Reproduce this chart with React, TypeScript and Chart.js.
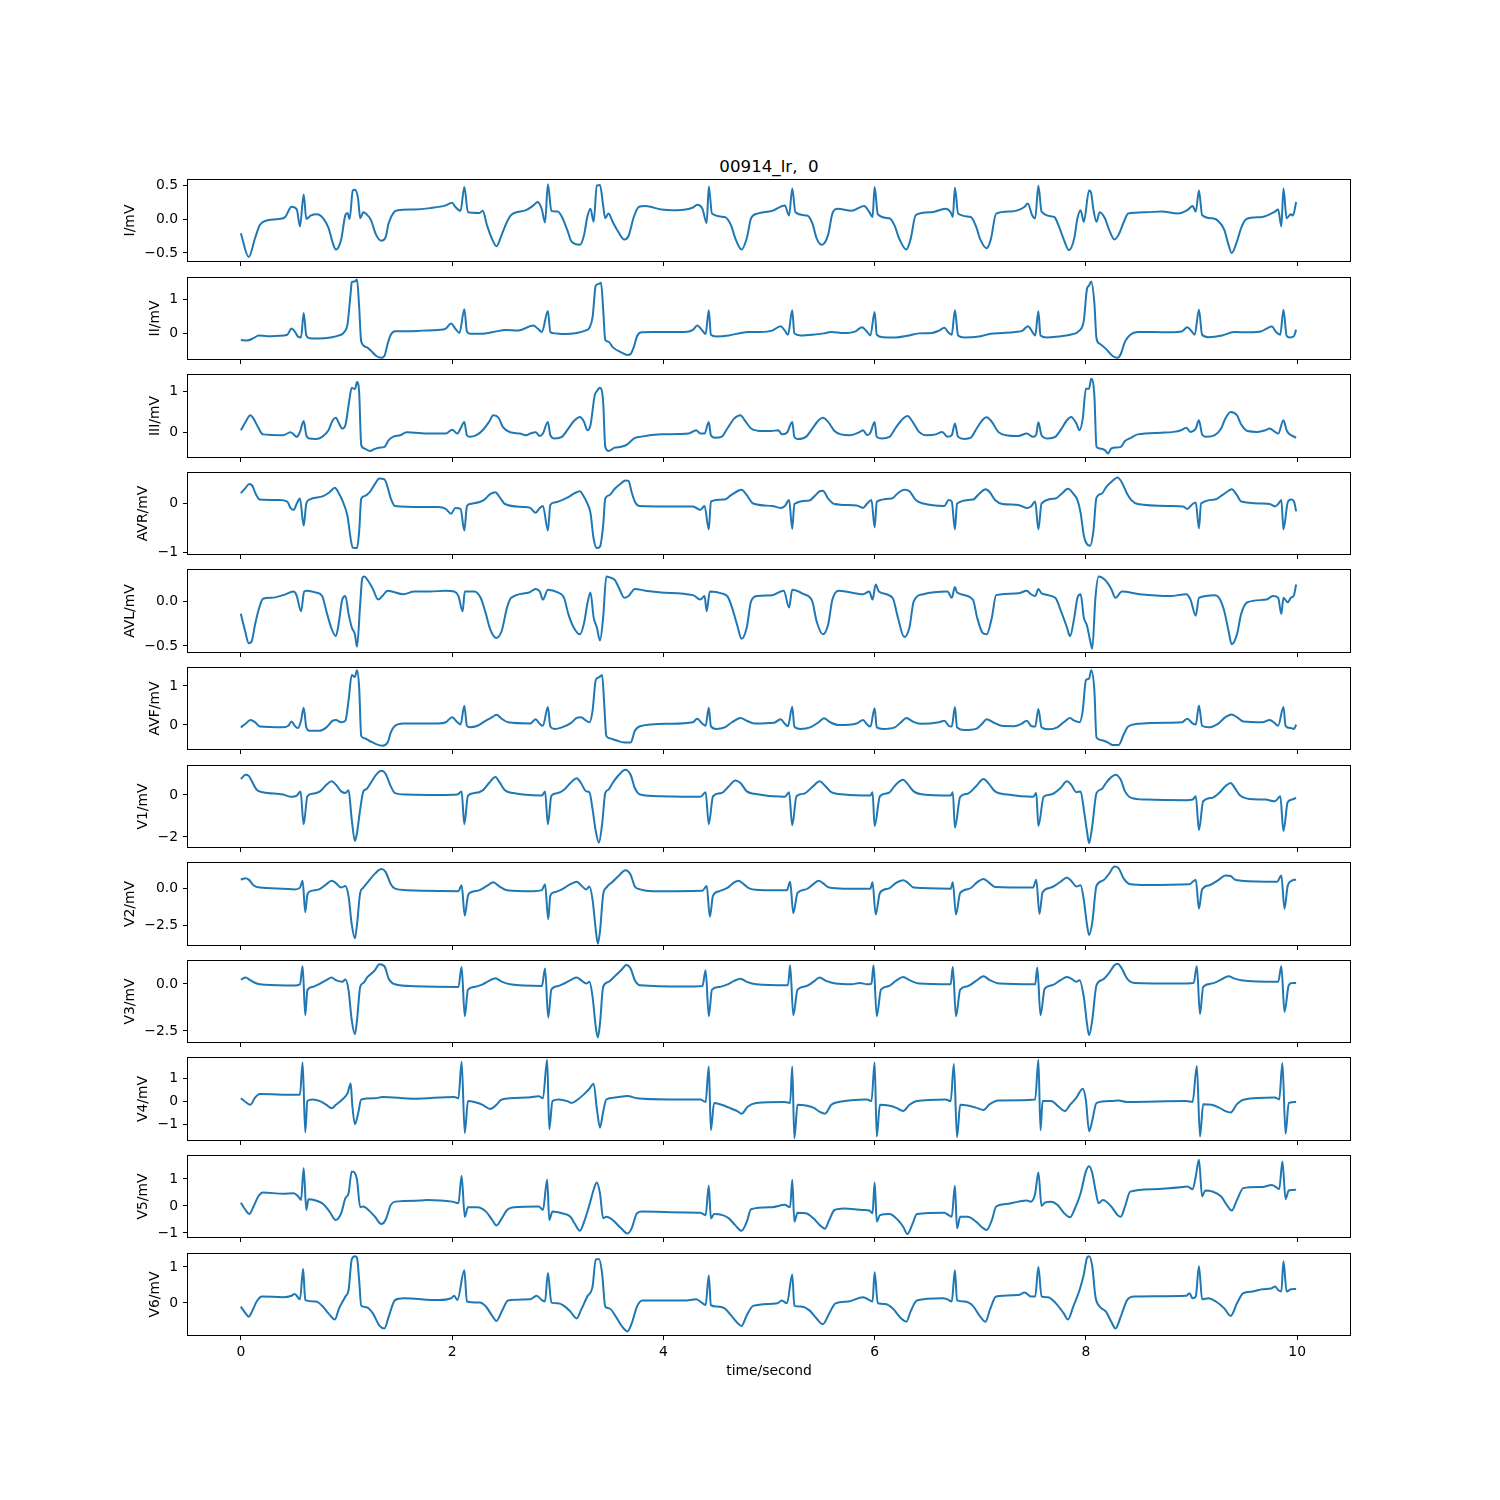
import React, { useEffect, useRef } from "react";
import { Chart, registerables } from "chart.js";

Chart.register(...registerables);

const FONT = "'DejaVu Sans', 'Liberation Sans', sans-serif";
const TITLE = "00914_lr,  0";
const X_LABEL = "time/second";
const X_TICKS = [0, 2, 4, 6, 8, 10];
const X_MIN = -0.5;
const X_MAX = 10.5;

const LEAD_NAMES = ["I", "II", "III", "AVR", "AVL", "AVF", "V1", "V2", "V3", "V4", "V5", "V6"];
const Y_TICKS = [
  [-0.5, 0, 0.5], [0, 1], [0, 1], [-1, 0], [-0.5, 0], [0, 1],
  [-2, 0], [-2.5, 0], [-2.5, 0], [-1, 0, 1], [-1, 0, 1], [0, 1],
];
const Y_DECIMALS = [1, 0, 0, 0, 1, 0, 0, 1, 1, 0, 0, 0];
const Y_LIMITS = [
  [-0.618, 0.574], [-0.735, 1.62], [-0.585, 1.39], [-1.04, 0.612], [-0.568, 0.352], [-0.615, 1.46],
  [-2.48, 1.38], [-3.78, 1.69], [-3.09, 1.22], [-1.65, 1.87], [-1.15, 1.85], [-0.89, 1.36],
];

const LEAD_I: [number, number][] = [[0.0,-0.21],[0.075,-0.56],[0.135,-0.28],[0.18,-0.09],[0.23,-0.03],[0.36,0.0],[0.42,0.03],[0.48,0.18],[0.53,0.14],[0.56,-0.11],[0.595,0.36],[0.62,0.0],[0.66,0.05],[0.72,0.07],[0.78,0.01],[0.83,-0.13],[0.87,-0.35],[0.9,-0.45],[0.95,-0.3],[0.99,0.06],[1.01,0.09],[1.03,0.0],[1.06,0.42],[1.08,0.43],[1.11,0.3],[1.13,0.01],[1.16,0.1],[1.19,0.07],[1.23,-0.01],[1.28,-0.23],[1.33,-0.32],[1.37,-0.27],[1.4,-0.06],[1.45,0.1],[1.49,0.13],[1.64,0.14],[1.79,0.16],[1.94,0.2],[2.0,0.24],[2.03,0.18],[2.08,0.12],[2.116,0.47],[2.15,0.1],[2.26,0.09],[2.29,0.12],[2.33,-0.09],[2.38,-0.3],[2.42,-0.4],[2.47,-0.23],[2.52,-0.04],[2.56,0.06],[2.7,0.13],[2.77,0.2],[2.81,0.25],[2.85,0.14],[2.88,-0.05],[2.907,0.51],[2.94,0.12],[3.0,0.11],[3.04,0.03],[3.09,-0.16],[3.13,-0.33],[3.21,-0.38],[3.25,-0.23],[3.28,0.03],[3.31,0.15],[3.34,-0.04],[3.37,0.49],[3.4,0.5],[3.43,0.2],[3.45,0.01],[3.48,0.08],[3.52,-0.04],[3.57,-0.18],[3.63,-0.3],[3.67,-0.25],[3.72,0.03],[3.77,0.18],[3.83,0.19],[3.98,0.14],[4.13,0.13],[4.28,0.17],[4.32,0.21],[4.37,0.15],[4.41,-0.06],[4.43,0.48],[4.46,0.08],[4.58,0.03],[4.64,-0.09],[4.68,-0.28],[4.74,-0.45],[4.79,-0.28],[4.83,0.01],[4.89,0.08],[5.03,0.12],[5.15,0.2],[5.19,0.05],[5.22,0.45],[5.25,0.1],[5.36,0.05],[5.41,-0.06],[5.45,-0.28],[5.5,-0.38],[5.56,-0.23],[5.6,0.08],[5.65,0.15],[5.78,0.12],[5.9,0.19],[5.95,0.1],[5.98,0.03],[6.0,0.47],[6.03,0.07],[6.14,0.01],[6.19,-0.1],[6.23,-0.28],[6.3,-0.45],[6.34,-0.3],[6.39,0.06],[6.54,0.1],[6.67,0.15],[6.72,0.1],[6.74,0.03],[6.76,0.46],[6.79,0.08],[6.91,0.03],[6.96,-0.11],[7.0,-0.3],[7.06,-0.43],[7.1,-0.3],[7.15,0.08],[7.29,0.11],[7.42,0.18],[7.45,0.23],[7.49,0.06],[7.52,0.01],[7.55,0.49],[7.58,0.11],[7.7,0.03],[7.74,-0.09],[7.79,-0.3],[7.84,-0.46],[7.89,-0.28],[7.92,0.01],[7.95,0.13],[7.98,-0.04],[8.03,0.42],[8.05,0.38],[8.07,0.15],[8.1,-0.04],[8.13,0.1],[8.18,0.01],[8.22,-0.16],[8.27,-0.3],[8.31,-0.23],[8.36,-0.04],[8.4,0.08],[8.57,0.1],[8.72,0.11],[8.87,0.08],[8.96,0.13],[9.01,0.19],[9.04,0.11],[9.07,0.42],[9.1,0.06],[9.2,0.01],[9.26,-0.04],[9.31,-0.16],[9.35,-0.38],[9.38,-0.5],[9.43,-0.33],[9.47,-0.13],[9.52,0.0],[9.67,0.03],[9.79,0.11],[9.82,0.14],[9.85,-0.11],[9.87,0.45],[9.9,0.01],[9.94,0.07],[9.96,0.05],[9.99,0.25]];

const LEAD_II: [number, number][] = [[0.0,-0.18],[0.06,-0.2],[0.12,-0.13],[0.17,-0.05],[0.25,-0.07],[0.36,-0.06],[0.44,-0.03],[0.48,0.15],[0.51,0.07],[0.54,-0.08],[0.57,-0.11],[0.595,0.6],[0.62,-0.05],[0.65,-0.13],[0.74,-0.14],[0.85,-0.11],[0.93,-0.05],[0.98,0.05],[1.01,0.28],[1.04,1.19],[1.05,1.5],[1.08,1.52],[1.1,1.58],[1.12,0.79],[1.14,-0.23],[1.19,-0.39],[1.23,-0.49],[1.28,-0.64],[1.33,-0.7],[1.36,-0.64],[1.39,-0.29],[1.42,-0.03],[1.46,0.07],[1.57,0.07],[1.72,0.09],[1.87,0.11],[1.94,0.15],[1.99,0.3],[2.03,0.15],[2.07,0.02],[2.116,0.71],[2.14,0.07],[2.17,0.0],[2.28,0.0],[2.39,0.05],[2.51,0.11],[2.62,0.09],[2.77,0.24],[2.81,0.15],[2.85,0.05],[2.907,0.66],[2.93,0.05],[2.97,0.01],[3.07,-0.01],[3.18,0.02],[3.26,0.09],[3.3,0.17],[3.33,0.48],[3.36,1.4],[3.39,1.45],[3.41,1.48],[3.43,0.73],[3.45,-0.18],[3.48,-0.23],[3.52,-0.39],[3.6,-0.54],[3.66,-0.62],[3.69,-0.59],[3.72,-0.39],[3.75,-0.08],[3.79,0.04],[3.9,0.05],[4.05,0.05],[4.2,0.05],[4.28,0.11],[4.32,0.24],[4.37,0.09],[4.4,-0.01],[4.43,0.68],[4.45,-0.03],[4.5,-0.08],[4.62,-0.05],[4.73,0.02],[4.8,0.05],[4.92,0.05],[5.03,0.09],[5.11,0.22],[5.15,0.09],[5.18,-0.03],[5.22,0.68],[5.24,0.01],[5.3,-0.05],[5.41,-0.03],[5.52,0.01],[5.59,0.05],[5.71,0.02],[5.82,0.07],[5.88,0.19],[5.93,0.05],[5.96,-0.05],[6.0,0.63],[6.02,-0.03],[6.08,-0.1],[6.2,-0.11],[6.31,-0.06],[6.42,0.01],[6.54,0.02],[6.61,0.09],[6.66,0.17],[6.7,0.03],[6.73,-0.03],[6.76,0.68],[6.79,-0.05],[6.85,-0.11],[6.99,-0.08],[7.1,0.0],[7.21,0.02],[7.33,0.05],[7.4,0.09],[7.45,0.22],[7.5,0.02],[7.52,-0.05],[7.55,0.65],[7.57,-0.05],[7.63,-0.11],[7.74,-0.08],[7.85,-0.03],[7.93,0.07],[7.98,0.38],[8.01,1.3],[8.03,1.4],[8.05,1.52],[8.08,0.89],[8.1,-0.13],[8.13,-0.29],[8.19,-0.44],[8.25,-0.64],[8.3,-0.7],[8.33,-0.59],[8.37,-0.23],[8.42,-0.03],[8.49,0.05],[8.64,0.05],[8.8,0.04],[8.91,0.07],[8.96,0.19],[9.0,0.07],[9.03,-0.03],[9.07,0.7],[9.1,-0.03],[9.16,-0.1],[9.29,-0.05],[9.4,0.05],[9.55,0.04],[9.66,0.07],[9.71,0.15],[9.76,0.21],[9.8,0.05],[9.84,-0.03],[9.87,0.7],[9.9,-0.06],[9.93,-0.11],[9.97,-0.07],[9.99,0.12]];

const LEAD_III: [number, number][] = [[0.0,0.06],[0.045,0.26],[0.09,0.42],[0.12,0.34],[0.17,0.1],[0.21,-0.04],[0.4,-0.06],[0.47,0.01],[0.5,-0.04],[0.53,-0.1],[0.56,0.02],[0.595,0.28],[0.62,-0.06],[0.65,-0.14],[0.71,-0.15],[0.77,-0.1],[0.83,0.06],[0.87,0.3],[0.9,0.36],[0.93,0.22],[0.96,0.1],[0.99,0.18],[1.02,0.66],[1.05,1.08],[1.08,1.05],[1.1,1.22],[1.12,0.98],[1.14,-0.3],[1.17,-0.38],[1.22,-0.44],[1.27,-0.39],[1.31,-0.36],[1.36,-0.34],[1.4,-0.18],[1.45,-0.09],[1.51,-0.06],[1.57,0.01],[1.79,-0.02],[1.94,-0.02],[2.0,0.07],[2.05,-0.02],[2.08,0.1],[2.116,0.26],[2.14,-0.06],[2.17,-0.1],[2.23,-0.06],[2.29,0.06],[2.35,0.26],[2.39,0.42],[2.44,0.36],[2.48,0.14],[2.55,0.01],[2.64,-0.02],[2.7,-0.06],[2.74,-0.02],[2.79,0.01],[2.83,-0.08],[2.86,-0.02],[2.907,0.26],[2.93,-0.06],[2.97,-0.14],[3.04,-0.1],[3.1,0.1],[3.16,0.3],[3.21,0.38],[3.25,0.26],[3.28,0.06],[3.31,0.18],[3.35,0.9],[3.37,1.0],[3.4,1.08],[3.43,0.74],[3.45,-0.34],[3.48,-0.44],[3.54,-0.36],[3.6,-0.34],[3.66,-0.28],[3.72,-0.14],[3.78,-0.1],[3.98,-0.04],[4.24,-0.02],[4.31,0.06],[4.35,-0.02],[4.39,-0.02],[4.43,0.26],[4.45,-0.06],[4.49,-0.12],[4.55,-0.1],[4.61,0.12],[4.67,0.34],[4.73,0.42],[4.77,0.3],[4.83,0.1],[4.89,0.05],[5.02,0.04],[5.09,0.06],[5.12,-0.04],[5.17,0.0],[5.22,0.26],[5.24,-0.1],[5.27,-0.15],[5.35,-0.1],[5.41,0.1],[5.47,0.3],[5.51,0.36],[5.56,0.26],[5.62,0.04],[5.68,-0.04],[5.77,-0.06],[5.86,0.02],[5.89,0.06],[5.93,-0.06],[5.96,0.0],[6.0,0.26],[6.02,-0.1],[6.07,-0.14],[6.14,-0.1],[6.2,0.12],[6.27,0.34],[6.31,0.4],[6.37,0.22],[6.42,0.02],[6.49,-0.06],[6.58,-0.04],[6.64,0.02],[6.69,-0.1],[6.73,-0.06],[6.76,0.22],[6.79,-0.1],[6.85,-0.15],[6.91,-0.12],[6.97,0.12],[7.03,0.33],[7.06,0.37],[7.11,0.26],[7.17,0.02],[7.24,-0.06],[7.36,-0.08],[7.44,-0.02],[7.5,-0.1],[7.53,-0.04],[7.55,0.25],[7.58,-0.06],[7.64,-0.14],[7.71,-0.1],[7.77,0.1],[7.82,0.3],[7.86,0.38],[7.91,0.22],[7.94,0.06],[7.97,0.34],[8.0,1.06],[8.03,1.06],[8.05,1.3],[8.08,0.9],[8.1,-0.34],[8.13,-0.38],[8.18,-0.42],[8.21,-0.5],[8.24,-0.38],[8.33,-0.34],[8.37,-0.2],[8.43,-0.12],[8.49,-0.04],[8.72,0.0],[8.83,0.02],[8.9,0.06],[8.95,0.12],[8.99,0.02],[9.04,0.1],[9.07,0.3],[9.1,-0.04],[9.14,-0.1],[9.22,-0.06],[9.28,0.1],[9.32,0.34],[9.37,0.5],[9.43,0.42],[9.47,0.2],[9.53,0.04],[9.62,0.02],[9.7,0.06],[9.74,0.1],[9.79,0.02],[9.82,-0.02],[9.87,0.3],[9.9,0.06],[9.92,-0.02],[9.95,-0.07],[9.99,-0.12]];

const LEAD_AVR: [number, number][] = [[0.0,0.2],[0.045,0.31],[0.08,0.39],[0.11,0.35],[0.14,0.19],[0.18,0.07],[0.36,0.06],[0.44,0.03],[0.47,-0.1],[0.5,-0.14],[0.53,-0.01],[0.56,0.09],[0.595,-0.46],[0.62,-0.01],[0.65,0.07],[0.78,0.14],[0.84,0.22],[0.89,0.31],[0.93,0.19],[0.96,0.06],[1.01,-0.27],[1.04,-0.73],[1.06,-0.91],[1.1,-0.92],[1.12,-0.59],[1.14,0.09],[1.17,0.14],[1.22,0.22],[1.27,0.39],[1.31,0.5],[1.36,0.48],[1.39,0.32],[1.42,0.09],[1.46,-0.06],[1.72,-0.08],[1.87,-0.08],[1.94,-0.12],[1.99,-0.22],[2.03,-0.1],[2.08,-0.12],[2.116,-0.56],[2.14,-0.07],[2.17,-0.02],[2.3,0.06],[2.36,0.18],[2.41,0.22],[2.45,0.12],[2.5,-0.02],[2.67,-0.08],[2.74,-0.1],[2.79,-0.2],[2.83,-0.1],[2.86,-0.06],[2.907,-0.56],[2.93,-0.04],[2.97,0.01],[3.1,0.12],[3.16,0.2],[3.21,0.24],[3.24,0.16],[3.28,-0.01],[3.31,-0.2],[3.34,-0.73],[3.37,-0.92],[3.4,-0.89],[3.43,-0.46],[3.45,0.09],[3.49,0.16],[3.54,0.29],[3.6,0.4],[3.64,0.46],[3.67,0.45],[3.7,0.22],[3.73,0.03],[3.77,-0.06],[4.05,-0.07],[4.28,-0.07],[4.35,-0.14],[4.39,-0.06],[4.43,-0.54],[4.45,0.03],[4.58,0.07],[4.64,0.16],[4.7,0.24],[4.74,0.27],[4.79,0.16],[4.85,-0.01],[5.03,-0.06],[5.11,-0.1],[5.15,-0.06],[5.19,0.06],[5.22,-0.53],[5.24,-0.02],[5.38,0.05],[5.44,0.16],[5.48,0.24],[5.51,0.25],[5.56,0.09],[5.62,-0.02],[5.83,-0.05],[5.89,-0.1],[5.93,-0.01],[5.97,0.06],[6.0,-0.5],[6.02,0.03],[6.16,0.09],[6.22,0.2],[6.28,0.27],[6.33,0.24],[6.39,0.06],[6.46,-0.01],[6.66,-0.06],[6.7,0.06],[6.73,0.03],[6.76,-0.54],[6.78,-0.01],[6.93,0.07],[6.99,0.19],[7.05,0.28],[7.09,0.22],[7.14,0.06],[7.21,-0.02],[7.36,-0.04],[7.44,-0.1],[7.48,-0.07],[7.52,0.03],[7.55,-0.54],[7.58,-0.01],[7.71,0.09],[7.77,0.19],[7.83,0.29],[7.88,0.19],[7.92,0.06],[7.95,-0.2],[7.98,-0.66],[8.01,-0.84],[8.04,-0.87],[8.07,-0.59],[8.1,0.11],[8.15,0.19],[8.19,0.32],[8.25,0.45],[8.3,0.52],[8.34,0.42],[8.39,0.19],[8.43,0.06],[8.49,-0.02],[8.8,-0.06],[8.92,-0.07],[8.96,-0.12],[9.01,-0.02],[9.04,0.01],[9.07,-0.52],[9.09,-0.01],[9.22,0.07],[9.29,0.16],[9.35,0.25],[9.38,0.28],[9.43,0.16],[9.47,0.03],[9.67,-0.01],[9.74,-0.02],[9.79,-0.07],[9.82,-0.02],[9.85,0.06],[9.87,-0.54],[9.91,0.01],[9.94,0.07],[9.97,0.03],[9.99,-0.17]];

const LEAD_AVL: [number, number][] = [[0.0,-0.14],[0.04,-0.33],[0.075,-0.47],[0.105,-0.44],[0.135,-0.26],[0.165,-0.11],[0.21,0.03],[0.29,0.04],[0.4,0.07],[0.5,0.11],[0.53,0.06],[0.57,-0.11],[0.6,0.11],[0.63,0.12],[0.71,0.1],[0.77,0.06],[0.81,-0.11],[0.86,-0.31],[0.9,-0.39],[0.93,-0.22],[0.96,0.02],[0.99,0.06],[1.02,-0.14],[1.05,-0.29],[1.08,-0.37],[1.1,-0.51],[1.13,-0.03],[1.15,0.26],[1.17,0.28],[1.2,0.24],[1.25,0.14],[1.3,0.02],[1.34,0.06],[1.39,0.12],[1.54,0.08],[1.64,0.11],[1.79,0.11],[1.94,0.12],[2.02,0.11],[2.06,0.06],[2.1,-0.11],[2.12,0.11],[2.21,0.11],[2.27,0.04],[2.32,-0.14],[2.36,-0.31],[2.42,-0.41],[2.47,-0.33],[2.52,-0.07],[2.56,0.04],[2.73,0.1],[2.79,0.14],[2.83,0.11],[2.86,0.02],[2.907,0.13],[3.0,0.1],[3.06,0.04],[3.1,-0.14],[3.15,-0.29],[3.21,-0.37],[3.25,-0.24],[3.28,-0.03],[3.31,0.1],[3.34,-0.18],[3.37,-0.29],[3.4,-0.44],[3.43,-0.18],[3.46,0.28],[3.49,0.27],[3.54,0.24],[3.58,0.15],[3.63,0.04],[3.67,0.06],[3.73,0.14],[3.83,0.12],[3.98,0.1],[4.28,0.07],[4.35,0.02],[4.39,0.06],[4.41,-0.11],[4.44,0.11],[4.55,0.09],[4.61,0.05],[4.65,-0.07],[4.7,-0.27],[4.74,-0.42],[4.79,-0.29],[4.83,0.0],[4.89,0.06],[5.03,0.07],[5.14,0.12],[5.19,-0.07],[5.22,0.13],[5.33,0.08],[5.41,0.0],[5.45,-0.22],[5.51,-0.37],[5.56,-0.26],[5.6,0.02],[5.66,0.12],[5.89,0.08],[5.95,0.11],[5.98,0.02],[6.01,0.19],[6.04,0.11],[6.17,0.04],[6.22,-0.18],[6.28,-0.4],[6.33,-0.29],[6.37,0.0],[6.46,0.08],[6.69,0.11],[6.73,0.04],[6.76,0.16],[6.78,0.1],[6.93,0.02],[6.97,-0.18],[7.02,-0.35],[7.06,-0.37],[7.11,-0.18],[7.15,0.07],[7.36,0.09],[7.44,0.12],[7.48,0.08],[7.52,0.06],[7.55,0.14],[7.58,0.09],[7.71,0.04],[7.77,-0.13],[7.82,-0.29],[7.85,-0.39],[7.89,-0.18],[7.92,0.04],[7.95,0.08],[7.98,-0.18],[8.01,-0.27],[8.04,-0.44],[8.06,-0.53],[8.09,0.04],[8.12,0.28],[8.15,0.27],[8.19,0.23],[8.24,0.14],[8.28,0.04],[8.34,0.11],[8.51,0.08],[8.8,0.06],[8.95,0.08],[8.99,0.02],[9.04,-0.16],[9.07,0.04],[9.22,0.07],[9.26,0.04],[9.31,-0.11],[9.35,-0.33],[9.38,-0.48],[9.43,-0.37],[9.47,-0.14],[9.53,-0.01],[9.71,0.02],[9.77,0.06],[9.82,0.04],[9.85,-0.14],[9.87,0.04],[9.91,-0.01],[9.94,0.04],[9.97,0.07],[9.99,0.19]];

const LEAD_AVF: [number, number][] = [[0.0,-0.06],[0.045,0.03],[0.09,0.13],[0.135,0.07],[0.18,-0.04],[0.4,-0.06],[0.45,-0.02],[0.48,0.09],[0.51,-0.02],[0.54,-0.08],[0.57,0.11],[0.595,0.44],[0.62,-0.06],[0.65,-0.15],[0.74,-0.15],[0.81,-0.06],[0.87,0.11],[0.9,0.13],[0.95,0.07],[0.99,0.11],[1.02,0.63],[1.05,1.28],[1.08,1.23],[1.1,1.4],[1.12,0.97],[1.14,-0.28],[1.17,-0.34],[1.22,-0.41],[1.28,-0.49],[1.34,-0.53],[1.39,-0.45],[1.42,-0.19],[1.46,-0.02],[1.54,0.04],[1.87,0.04],[1.94,0.07],[2.0,0.2],[2.05,0.07],[2.08,0.01],[2.116,0.49],[2.14,-0.02],[2.17,-0.06],[2.24,-0.02],[2.32,0.11],[2.38,0.2],[2.42,0.26],[2.47,0.16],[2.53,0.07],[2.74,0.04],[2.79,0.15],[2.83,0.03],[2.86,-0.02],[2.907,0.46],[2.93,-0.04],[2.97,-0.1],[3.04,-0.06],[3.12,0.04],[3.18,0.18],[3.22,0.2],[3.27,0.11],[3.3,0.07],[3.33,0.37],[3.36,1.15],[3.39,1.22],[3.42,1.28],[3.44,0.54],[3.46,-0.28],[3.49,-0.34],[3.55,-0.39],[3.63,-0.45],[3.69,-0.45],[3.73,-0.15],[3.78,-0.03],[4.05,0.03],[4.28,0.07],[4.32,0.16],[4.37,0.03],[4.4,-0.02],[4.43,0.44],[4.45,-0.03],[4.5,-0.1],[4.58,-0.06],[4.65,0.07],[4.73,0.18],[4.79,0.11],[4.86,0.04],[5.05,0.06],[5.11,0.15],[5.15,0.03],[5.18,-0.03],[5.22,0.47],[5.24,-0.04],[5.3,-0.1],[5.39,-0.06],[5.47,0.07],[5.52,0.17],[5.58,0.07],[5.66,0.0],[5.83,0.04],[5.89,0.13],[5.93,0.01],[5.96,-0.04],[6.0,0.43],[6.02,-0.06],[6.08,-0.1],[6.19,-0.06],[6.25,0.07],[6.3,0.18],[6.36,0.09],[6.43,0.03],[6.61,0.07],[6.66,0.11],[6.7,-0.02],[6.73,-0.04],[6.76,0.46],[6.78,-0.06],[6.85,-0.13],[6.96,-0.1],[7.02,0.04],[7.06,0.15],[7.12,0.07],[7.2,-0.02],[7.32,-0.03],[7.39,0.03],[7.44,0.11],[7.48,-0.02],[7.52,-0.04],[7.55,0.41],[7.58,-0.06],[7.64,-0.11],[7.73,-0.06],[7.79,0.07],[7.85,0.18],[7.89,0.11],[7.94,0.07],[7.97,0.37],[8.0,1.15],[8.03,1.19],[8.05,1.4],[8.08,0.89],[8.1,-0.32],[8.15,-0.39],[8.21,-0.45],[8.25,-0.51],[8.31,-0.51],[8.36,-0.23],[8.4,-0.04],[8.49,0.03],[8.8,0.06],[8.91,0.07],[8.96,0.16],[9.01,0.04],[9.04,0.01],[9.07,0.5],[9.1,-0.02],[9.16,-0.06],[9.25,0.03],[9.32,0.2],[9.38,0.27],[9.43,0.2],[9.49,0.09],[9.67,0.07],[9.74,0.13],[9.79,0.04],[9.82,-0.02],[9.87,0.46],[9.89,-0.02],[9.94,-0.08],[9.97,-0.1],[9.99,0.01]];

const LEAD_V1: [number, number][] = [[0.0,0.76],[0.045,0.96],[0.075,0.91],[0.105,0.65],[0.15,0.25],[0.21,0.13],[0.4,0.02],[0.48,-0.09],[0.53,-0.03],[0.565,0.17],[0.595,-1.4],[0.63,-0.06],[0.68,0.06],[0.75,0.17],[0.81,0.49],[0.86,0.65],[0.9,0.49],[0.95,0.17],[0.99,0.09],[1.02,0.22],[1.05,-1.17],[1.08,-2.19],[1.1,-1.8],[1.13,-0.69],[1.16,0.17],[1.19,0.28],[1.23,0.57],[1.28,0.96],[1.33,1.15],[1.37,1.01],[1.42,0.41],[1.46,0.09],[1.57,0.02],[1.87,0.0],[2.05,0.02],[2.09,0.17],[2.116,-1.4],[2.15,-0.03],[2.21,0.09],[2.29,0.22],[2.35,0.57],[2.41,0.85],[2.45,0.6],[2.5,0.22],[2.58,0.09],[2.67,0.02],[2.85,-0.03],[2.88,0.17],[2.907,-1.4],[2.94,-0.03],[3.0,0.09],[3.06,0.25],[3.12,0.57],[3.18,0.8],[3.22,0.57],[3.27,0.17],[3.3,0.13],[3.33,-0.69],[3.36,-1.72],[3.39,-2.27],[3.42,-1.4],[3.45,0.09],[3.48,0.25],[3.52,0.57],[3.58,0.96],[3.64,1.2],[3.69,0.96],[3.73,0.33],[3.78,0.02],[3.98,-0.06],[4.35,-0.09],[4.4,0.13],[4.43,-1.4],[4.47,-0.06],[4.55,0.09],[4.62,0.41],[4.68,0.69],[4.73,0.57],[4.79,0.17],[4.86,0.06],[5.15,-0.09],[5.19,0.13],[5.22,-1.45],[5.26,-0.06],[5.33,0.06],[5.41,0.38],[5.48,0.65],[5.53,0.44],[5.59,0.13],[5.71,0.02],[5.96,-0.03],[5.98,0.13],[6.0,-1.48],[6.05,-0.06],[6.13,0.09],[6.2,0.49],[6.27,0.72],[6.31,0.54],[6.37,0.17],[6.46,0.02],[6.72,-0.03],[6.74,0.13],[6.76,-1.56],[6.81,-0.09],[6.88,0.06],[6.96,0.41],[7.03,0.76],[7.08,0.54],[7.14,0.17],[7.26,0.02],[7.5,-0.09],[7.53,0.09],[7.55,-1.48],[7.6,-0.09],[7.67,0.02],[7.76,0.33],[7.82,0.65],[7.86,0.49],[7.91,0.13],[7.95,0.17],[7.98,-0.69],[8.01,-1.72],[8.03,-2.3],[8.06,-1.48],[8.1,0.09],[8.15,0.28],[8.19,0.57],[8.24,0.85],[8.28,0.96],[8.33,0.72],[8.37,0.17],[8.43,-0.14],[8.57,-0.22],[8.95,-0.25],[9.01,-0.22],[9.04,-0.06],[9.07,-1.67],[9.11,-0.3],[9.19,-0.14],[9.26,0.09],[9.32,0.41],[9.37,0.57],[9.41,0.33],[9.46,-0.03],[9.55,-0.19],[9.7,-0.22],[9.79,-0.3],[9.84,-0.06],[9.87,-1.72],[9.91,-0.35],[9.95,-0.22],[9.99,-0.14]];

const LEAD_V2: [number, number][] = [[0.0,0.58],[0.045,0.68],[0.075,0.58],[0.12,0.21],[0.18,0.05],[0.4,-0.02],[0.51,-0.07],[0.56,0.05],[0.585,0.51],[0.61,-1.59],[0.63,-0.42],[0.66,-0.19],[0.74,-0.07],[0.8,0.21],[0.86,0.51],[0.9,0.35],[0.95,0.05],[0.99,0.16],[1.02,-0.54],[1.05,-2.41],[1.08,-3.34],[1.1,-2.41],[1.13,-0.3],[1.16,0.05],[1.2,0.4],[1.27,0.98],[1.33,1.29],[1.37,1.1],[1.42,0.28],[1.46,-0.02],[1.57,-0.12],[1.72,-0.16],[2.06,-0.19],[2.09,0.21],[2.12,-1.82],[2.15,-0.49],[2.18,-0.26],[2.26,-0.12],[2.33,0.16],[2.39,0.4],[2.45,0.12],[2.52,-0.12],[2.77,-0.19],[2.85,-0.12],[2.88,0.28],[2.91,-2.06],[2.93,-0.49],[2.97,-0.26],[3.04,-0.07],[3.12,0.28],[3.18,0.44],[3.22,0.21],[3.27,-0.07],[3.3,0.12],[3.33,-0.77],[3.36,-2.76],[3.38,-3.69],[3.4,-2.87],[3.43,-0.42],[3.46,0.05],[3.52,0.44],[3.58,0.86],[3.64,1.21],[3.69,0.91],[3.73,0.12],[3.78,-0.07],[3.9,-0.19],[4.37,-0.16],[4.41,0.16],[4.44,-1.89],[4.47,-0.49],[4.53,-0.19],[4.61,0.05],[4.67,0.4],[4.71,0.51],[4.76,0.28],[4.82,-0.02],[4.95,-0.12],[5.17,-0.12],[5.2,0.44],[5.23,-1.66],[5.27,-0.3],[5.35,-0.07],[5.42,0.28],[5.47,0.51],[5.51,0.35],[5.57,0.05],[5.71,-0.02],[5.96,-0.02],[5.98,0.4],[6.01,-1.75],[6.05,-0.3],[6.13,-0.02],[6.2,0.35],[6.27,0.54],[6.31,0.4],[6.37,0.05],[6.72,-0.02],[6.74,0.4],[6.77,-1.75],[6.81,-0.3],[6.9,-0.02],[6.97,0.4],[7.03,0.63],[7.08,0.4],[7.14,0.09],[7.5,0.05],[7.53,0.58],[7.56,-1.71],[7.59,-0.26],[7.67,0.05],[7.76,0.44],[7.82,0.72],[7.86,0.51],[7.91,0.12],[7.95,0.21],[7.98,-0.77],[8.01,-2.41],[8.03,-3.11],[8.06,-2.29],[8.1,0.16],[8.16,0.51],[8.22,0.98],[8.27,1.45],[8.31,1.33],[8.36,0.63],[8.42,0.28],[8.57,0.23],[8.98,0.28],[9.04,0.58],[9.07,-1.36],[9.1,-0.07],[9.17,0.21],[9.26,0.58],[9.32,0.86],[9.37,0.82],[9.41,0.58],[9.47,0.51],[9.81,0.44],[9.85,0.86],[9.88,-1.36],[9.91,0.16],[9.95,0.51],[9.99,0.58]];

const LEAD_V3: [number, number][] = [[0.0,0.23],[0.045,0.34],[0.09,0.2],[0.15,0.02],[0.23,-0.05],[0.51,-0.09],[0.56,-0.02],[0.585,0.94],[0.61,-1.67],[0.63,-0.34],[0.68,-0.16],[0.75,0.02],[0.81,0.2],[0.86,0.34],[0.9,0.2],[0.96,0.11],[0.99,0.23],[1.02,-0.34],[1.05,-1.93],[1.08,-2.68],[1.1,-1.93],[1.13,-0.16],[1.16,0.05],[1.2,0.37],[1.27,0.73],[1.31,1.05],[1.36,0.94],[1.4,0.28],[1.46,-0.02],[1.64,-0.12],[2.06,-0.16],[2.09,0.9],[2.12,-1.72],[2.15,-0.3],[2.21,-0.16],[2.29,-0.02],[2.35,0.16],[2.41,0.3],[2.47,0.12],[2.55,-0.02],[2.85,-0.11],[2.88,0.82],[2.91,-1.79],[2.94,-0.3],[3.0,-0.12],[3.07,0.05],[3.13,0.23],[3.18,0.34],[3.22,0.2],[3.27,0.02],[3.3,0.11],[3.33,-0.69],[3.36,-2.29],[3.38,-2.85],[3.4,-2.11],[3.43,-0.16],[3.48,0.11],[3.54,0.41],[3.6,0.73],[3.65,1.01],[3.69,0.82],[3.73,0.2],[3.78,-0.07],[4.2,-0.14],[4.37,-0.11],[4.4,0.73],[4.43,-1.72],[4.46,-0.3],[4.53,-0.16],[4.61,-0.02],[4.67,0.16],[4.73,0.28],[4.79,0.11],[4.88,-0.02],[5.18,-0.07],[5.2,0.99],[5.23,-1.67],[5.27,-0.3],[5.35,-0.12],[5.42,0.11],[5.48,0.34],[5.54,0.16],[5.63,0.02],[5.78,-0.02],[5.86,0.05],[5.93,-0.02],[5.97,0.02],[5.99,0.99],[6.02,-1.72],[6.06,-0.3],[6.13,-0.12],[6.2,0.16],[6.27,0.37],[6.33,0.2],[6.42,0.02],[6.72,-0.02],[6.74,0.9],[6.77,-1.72],[6.81,-0.3],[6.88,-0.12],[6.96,0.16],[7.03,0.41],[7.09,0.2],[7.18,0.02],[7.52,-0.02],[7.54,0.87],[7.57,-1.67],[7.61,-0.25],[7.68,-0.07],[7.76,0.2],[7.82,0.37],[7.86,0.28],[7.91,0.11],[7.94,0.2],[7.98,-0.69],[8.01,-2.11],[8.03,-2.73],[8.06,-1.93],[8.1,-0.07],[8.16,0.23],[8.22,0.59],[8.27,0.99],[8.3,1.08],[8.34,0.82],[8.39,0.28],[8.46,0.05],[8.87,0.02],[9.02,0.05],[9.05,0.94],[9.08,-1.61],[9.11,-0.16],[9.19,0.02],[9.28,0.23],[9.35,0.41],[9.41,0.28],[9.47,0.2],[9.82,0.11],[9.85,0.94],[9.88,-1.49],[9.92,-0.07],[9.95,0.05],[9.99,0.05]];

const LEAD_V4: [number, number][] = [[0.0,0.14],[0.045,-0.02],[0.09,-0.14],[0.135,0.17],[0.18,0.32],[0.51,0.29],[0.56,0.29],[0.585,1.68],[0.61,-1.32],[0.63,0.02],[0.68,0.09],[0.75,0.02],[0.81,-0.14],[0.86,-0.29],[0.9,-0.14],[0.96,0.09],[1.01,0.35],[1.04,0.77],[1.055,-0.14],[1.08,-0.97],[1.11,-0.52],[1.14,0.09],[1.27,0.14],[1.34,0.2],[1.64,0.12],[2.02,0.2],[2.06,0.14],[2.09,1.71],[2.12,-1.35],[2.15,0.02],[2.21,-0.02],[2.29,-0.14],[2.36,-0.32],[2.42,-0.14],[2.47,0.09],[2.7,0.17],[2.82,0.23],[2.86,0.14],[2.9,1.8],[2.92,-1.2],[2.95,0.02],[3.01,0.09],[3.09,0.02],[3.13,-0.06],[3.19,0.09],[3.25,0.32],[3.3,0.55],[3.34,0.77],[3.37,-0.29],[3.4,-1.12],[3.43,-0.44],[3.46,0.09],[3.54,0.17],[3.66,0.24],[3.75,0.14],[4.05,0.09],[4.35,0.09],[4.4,-0.02],[4.43,1.5],[4.45,-1.23],[4.48,-0.06],[4.55,-0.14],[4.62,-0.26],[4.7,-0.41],[4.74,-0.52],[4.8,-0.21],[4.88,-0.06],[5.15,-0.02],[5.2,-0.06],[5.22,1.5],[5.24,-1.58],[5.27,-0.14],[5.35,-0.17],[5.42,-0.26],[5.48,-0.44],[5.53,-0.52],[5.59,-0.14],[5.66,-0.02],[5.93,0.09],[5.97,0.02],[6.0,1.68],[6.02,-1.5],[6.05,-0.14],[6.13,-0.17],[6.2,-0.26],[6.27,-0.41],[6.33,-0.14],[6.4,0.02],[6.67,0.09],[6.72,0.02],[6.75,1.61],[6.78,-1.53],[6.81,-0.14],[6.88,-0.17],[6.96,-0.26],[7.03,-0.36],[7.09,-0.11],[7.17,0.05],[7.52,0.09],[7.55,1.8],[7.57,-1.23],[7.59,0.02],[7.67,0.02],[7.74,-0.21],[7.8,-0.41],[7.85,-0.14],[7.91,0.17],[7.97,0.55],[8.0,0.05],[8.03,-1.27],[8.06,-0.82],[8.1,-0.06],[8.24,0.02],[8.31,0.05],[8.39,-0.02],[8.95,0.02],[9.01,-0.02],[9.05,1.53],[9.08,-1.5],[9.11,-0.11],[9.19,-0.14],[9.26,-0.26],[9.32,-0.41],[9.37,-0.47],[9.43,-0.11],[9.5,0.09],[9.79,0.17],[9.83,0.09],[9.86,1.65],[9.89,-1.38],[9.92,-0.06],[9.99,-0.02]];

const LEAD_V5: [number, number][] = [[0.0,0.12],[0.045,-0.15],[0.08,-0.3],[0.12,-0.02],[0.165,0.35],[0.21,0.5],[0.4,0.45],[0.5,0.47],[0.54,0.37],[0.57,0.22],[0.595,1.4],[0.62,-0.15],[0.64,0.25],[0.71,0.2],[0.78,0.07],[0.84,-0.21],[0.9,-0.52],[0.95,-0.27],[0.99,0.29],[1.02,0.47],[1.05,1.28],[1.08,1.22],[1.1,0.97],[1.13,-0.05],[1.16,-0.02],[1.2,-0.12],[1.27,-0.4],[1.33,-0.67],[1.37,-0.52],[1.42,0.04],[1.46,0.16],[1.7,0.2],[1.76,0.22],[2.0,0.16],[2.06,0.1],[2.09,1.12],[2.12,-0.4],[2.15,-0.05],[2.24,-0.05],[2.32,-0.21],[2.38,-0.52],[2.42,-0.72],[2.47,-0.46],[2.52,-0.15],[2.59,-0.05],[2.82,-0.02],[2.86,-0.15],[2.9,0.97],[2.92,-0.52],[2.95,-0.21],[3.04,-0.27],[3.12,-0.4],[3.16,-0.65],[3.21,-0.92],[3.25,-0.58],[3.3,0.04],[3.34,0.6],[3.37,0.87],[3.4,0.47],[3.43,-0.46],[3.46,-0.4],[3.52,-0.52],[3.6,-0.83],[3.66,-1.02],[3.7,-0.83],[3.75,-0.27],[3.8,-0.21],[4.2,-0.24],[4.35,-0.25],[4.4,-0.34],[4.43,0.75],[4.45,-0.46],[4.48,-0.3],[4.56,-0.34],[4.62,-0.46],[4.68,-0.71],[4.74,-0.92],[4.79,-0.58],[4.83,-0.12],[5.03,-0.05],[5.15,0.04],[5.2,-0.05],[5.22,0.97],[5.24,-0.58],[5.27,-0.25],[5.35,-0.27],[5.42,-0.46],[5.48,-0.71],[5.53,-0.84],[5.57,-0.52],[5.62,-0.15],[5.71,-0.09],[5.89,-0.15],[5.95,-0.17],[5.98,-0.27],[6.0,0.87],[6.02,-0.58],[6.05,-0.34],[6.14,-0.3],[6.22,-0.52],[6.27,-0.77],[6.31,-1.04],[6.36,-0.65],[6.4,-0.3],[6.66,-0.25],[6.7,-0.34],[6.73,-0.4],[6.76,0.75],[6.78,-0.83],[6.81,-0.4],[6.88,-0.4],[6.96,-0.58],[7.02,-0.8],[7.06,-0.89],[7.11,-0.52],[7.15,-0.02],[7.24,0.07],[7.36,0.16],[7.44,0.2],[7.48,0.16],[7.52,0.47],[7.55,1.24],[7.58,0.0],[7.61,0.12],[7.67,0.16],[7.73,0.04],[7.79,-0.25],[7.85,-0.42],[7.89,-0.15],[7.95,0.47],[8.0,1.28],[8.03,1.47],[8.06,1.22],[8.09,0.6],[8.12,0.1],[8.16,0.22],[8.24,-0.02],[8.3,-0.34],[8.33,-0.4],[8.37,-0.02],[8.42,0.53],[8.64,0.62],[8.92,0.7],[8.96,0.72],[9.01,0.62],[9.04,1.09],[9.07,1.71],[9.1,0.35],[9.13,0.57],[9.2,0.53],[9.28,0.35],[9.34,0.0],[9.38,-0.17],[9.43,0.22],[9.49,0.66],[9.67,0.7],[9.76,0.78],[9.8,0.7],[9.83,0.62],[9.86,1.65],[9.89,0.25],[9.92,0.57],[9.99,0.6]];

const LEAD_V6: [number, number][] = [[0.0,-0.1],[0.045,-0.29],[0.075,-0.38],[0.105,-0.24],[0.15,0.04],[0.2,0.18],[0.4,0.16],[0.48,0.2],[0.51,0.25],[0.56,0.1],[0.59,0.94],[0.61,0.08],[0.71,0.04],[0.77,-0.08],[0.83,-0.29],[0.89,-0.46],[0.93,-0.15],[0.99,0.18],[1.02,0.36],[1.05,1.21],[1.08,1.3],[1.1,1.25],[1.12,0.64],[1.14,-0.08],[1.19,-0.12],[1.25,-0.29],[1.31,-0.62],[1.36,-0.71],[1.4,-0.38],[1.46,0.08],[1.54,0.13],[1.87,0.08],[1.99,0.13],[2.02,0.2],[2.05,0.08],[2.116,0.91],[2.14,0.04],[2.26,0.01],[2.32,-0.1],[2.38,-0.36],[2.42,-0.5],[2.47,-0.24],[2.53,0.07],[2.74,0.1],[2.8,0.2],[2.85,0.08],[2.88,0.04],[2.907,0.83],[2.94,0.01],[3.0,-0.01],[3.06,-0.08],[3.12,-0.24],[3.18,-0.43],[3.22,-0.2],[3.28,0.18],[3.33,0.46],[3.36,1.21],[3.39,1.22],[3.42,0.83],[3.45,-0.1],[3.49,-0.15],[3.55,-0.38],[3.61,-0.66],[3.66,-0.79],[3.7,-0.57],[3.75,-0.1],[3.8,0.07],[4.2,0.07],[4.31,0.1],[4.35,0.04],[4.4,-0.06],[4.43,0.76],[4.45,-0.06],[4.5,-0.1],[4.58,-0.15],[4.64,-0.34],[4.7,-0.55],[4.74,-0.64],[4.79,-0.34],[4.85,-0.08],[5.08,-0.01],[5.12,0.07],[5.17,-0.01],[5.22,0.79],[5.24,-0.08],[5.3,-0.1],[5.38,-0.2],[5.45,-0.43],[5.51,-0.59],[5.57,-0.29],[5.63,-0.01],[5.75,0.04],[5.89,0.16],[5.95,0.08],[5.98,0.04],[6.0,0.85],[6.03,-0.01],[6.1,-0.03],[6.17,-0.15],[6.25,-0.43],[6.3,-0.52],[6.34,-0.24],[6.4,0.07],[6.64,0.13],[6.69,0.1],[6.73,0.04],[6.76,0.91],[6.78,0.07],[6.85,0.04],[6.93,-0.08],[7.0,-0.38],[7.05,-0.52],[7.09,-0.2],[7.15,0.18],[7.36,0.22],[7.42,0.29],[7.48,0.18],[7.52,0.18],[7.55,1.0],[7.58,0.18],[7.64,0.16],[7.71,0.01],[7.79,-0.29],[7.83,-0.46],[7.88,-0.1],[7.94,0.36],[7.98,0.79],[8.01,1.25],[8.03,1.3],[8.06,1.02],[8.09,0.18],[8.13,-0.1],[8.19,-0.24],[8.24,-0.52],[8.28,-0.71],[8.33,-0.38],[8.39,0.08],[8.46,0.18],[8.95,0.2],[8.98,0.27],[9.01,0.13],[9.04,0.18],[9.07,1.02],[9.1,0.1],[9.16,0.13],[9.23,0.04],[9.31,-0.15],[9.37,-0.36],[9.43,-0.01],[9.49,0.27],[9.58,0.32],[9.67,0.38],[9.76,0.41],[9.79,0.46],[9.82,0.36],[9.85,0.32],[9.87,1.16],[9.9,0.32],[9.94,0.38],[9.99,0.39]];

const LEADS = [LEAD_I, LEAD_II, LEAD_III, LEAD_AVR, LEAD_AVL, LEAD_AVF, LEAD_V1, LEAD_V2, LEAD_V3, LEAD_V4, LEAD_V5, LEAD_V6];

// layout (pixels)
const FIG = 1500;
const AX_LEFT = 188;
const AX_RIGHT = 1350;
const AX_TOP0 = 180;
const AX_H = 81.34;
const AX_STEP = 97.61;
const PAD_T = 20;
const PAD_B = 20;
const FONT_PX = 13.9;
const LINE_COLOR = "#1f77b4";

function fmtTick(v: number, d: number) {
  const s = Math.abs(v).toFixed(d);
  return v < -1e-9 ? "\u2212" + s : s;
}

function LeadChart({ idx }: { idx: number }) {
  const ref = useRef<HTMLCanvasElement | null>(null);
  const isLast = idx === LEADS.length - 1;
  const top = Math.round(AX_TOP0 + idx * AX_STEP);
  const bottom = Math.round(AX_TOP0 + idx * AX_STEP + AX_H);
  const plotH = bottom - top;
  const xAxisH = isLast ? 30 : 10;
  const canvasH = PAD_T + plotH + xAxisH + PAD_B;

  useEffect(() => {
    const canvas = ref.current;
    if (!canvas) return;
    const dec = Y_DECIMALS[idx];
    const framePlugin = {
      id: "frame" + idx,
      afterDraw(chart: any) {
        const { ctx, chartArea: a } = chart;
        ctx.save();
        ctx.strokeStyle = "#000";
        ctx.lineWidth = 1;
        ctx.strokeRect(Math.round(a.left) - 0.5, Math.round(a.top) - 0.5, Math.round(a.right - a.left) + 1, Math.round(a.bottom - a.top) + 1);
        ctx.font = `${FONT_PX}px ${FONT}`;
        let maxW = 0;
        for (const t of Y_TICKS[idx]) maxW = Math.max(maxW, ctx.measureText(fmtTick(t, dec)).width);
        const x = a.left - 10 - maxW - 13.7;
        ctx.translate(x, (a.top + a.bottom) / 2);
        ctx.rotate(-Math.PI / 2);
        ctx.fillStyle = "#000";
        ctx.textAlign = "center";
        ctx.textBaseline = "middle";
        ctx.fillText(LEAD_NAMES[idx] + "/mV", 0, 0);
        ctx.restore();
      },
    };
    const gridOpts = {
      display: true,
      drawOnChartArea: false,
      drawTicks: true,
      tickLength: 5,
      color: "#000",
      tickColor: "#000",
      tickWidth: 1,
    };
    const chart = new Chart(canvas, {
      type: "line",
      data: {
        datasets: [
          {
            data: LEADS[idx].map(([x, y]) => ({ x, y })),
            borderColor: LINE_COLOR,
            borderWidth: 2,
            pointRadius: 0,
            cubicInterpolationMode: "monotone",
            fill: false,
          },
        ],
      },
      options: {
        responsive: false,
        animation: false,
        events: [],
        layout: { padding: { top: PAD_T, right: FIG - AX_RIGHT, bottom: PAD_B, left: 0 } },
        plugins: { legend: { display: false }, tooltip: { enabled: false }, title: { display: false } },
        scales: {
          x: {
            type: "linear",
            min: X_MIN,
            max: X_MAX,
            afterBuildTicks: (s: any) => {
              s.ticks = X_TICKS.map((v) => ({ value: v }));
            },
            afterFit: (s: any) => {
              s.height = xAxisH;
            },
            border: { display: false },
            grid: gridOpts,
            ticks: {
              display: isLast,
              color: "#000",
              font: { family: FONT, size: FONT_PX },
              padding: 4,
              maxRotation: 0,
              autoSkip: false,
              callback: (v: any) => String(v),
            },
          },
          y: {
            type: "linear",
            min: Y_LIMITS[idx][0],
            max: Y_LIMITS[idx][1],
            afterBuildTicks: (s: any) => {
              s.ticks = Y_TICKS[idx].map((v) => ({ value: v }));
            },
            afterFit: (s: any) => {
              s.width = AX_LEFT;
            },
            border: { display: false },
            grid: gridOpts,
            ticks: {
              color: "#000",
              font: { family: FONT, size: FONT_PX },
              padding: 5,
              autoSkip: false,
              callback: (v: any) => fmtTick(Number(v), dec),
            },
          },
        },
      } as any,
      plugins: [framePlugin],
    });
    return () => chart.destroy();
  }, [idx]);

  return (
    <canvas
      ref={ref}
      width={FIG}
      height={canvasH}
      style={{ position: "absolute", left: 0, top: top - PAD_T, width: FIG, height: canvasH, display: "block" }}
    />
  );
}

export default function App() {
  const centerX = (AX_LEFT + AX_RIGHT) / 2;
  return (
    <div style={{ position: "absolute", left: 0, top: 0, width: FIG, height: FIG, background: "#fff", overflow: "hidden" }}>
      <div
        style={{
          position: "absolute",
          left: centerX,
          top: 159,
          transform: "translateX(-50%)",
          fontFamily: FONT,
          fontSize: 16.67,
          lineHeight: 1,
          whiteSpace: "pre",
          color: "#000",
        }}
      >
        {TITLE}
      </div>
      {LEADS.map((_, i) => (
        <LeadChart key={i} idx={i} />
      ))}
      <div
        style={{
          position: "absolute",
          left: centerX,
          top: 1364,
          transform: "translateX(-50%)",
          fontFamily: FONT,
          fontSize: FONT_PX,
          lineHeight: 1,
          whiteSpace: "pre",
          color: "#000",
        }}
      >
        {X_LABEL}
      </div>
    </div>
  );
}
